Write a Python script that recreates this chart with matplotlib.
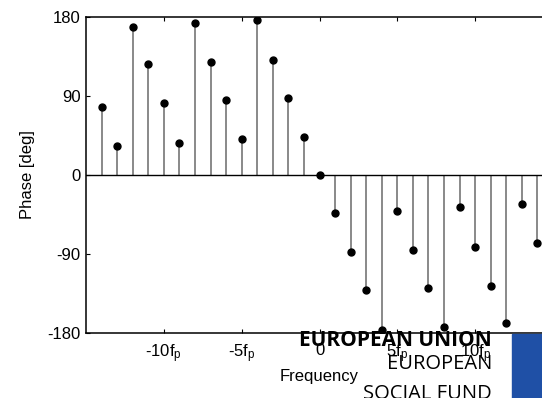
import numpy as np
import matplotlib
matplotlib.use('Agg')
import matplotlib.pyplot as plt
from matplotlib.patches import Rectangle

plt.rcParams['font.family'] = ['Liberation Sans', 'DejaVu Sans']
plt.rcParams['mathtext.fontset'] = 'custom'
plt.rcParams['mathtext.rm'] = 'Liberation Sans'
plt.rcParams['mathtext.it'] = 'Liberation Sans'

# harmonic index (multiples of the pulse frequency f_p)
harmonics = np.arange(-14, 15)

# phase of each harmonic in degrees, odd-symmetric about 0
phase_neg = [77, 32.5, 169, 126, 82, 37, 173.5, 129, 85, 40.5, 176.5, 131.5, 87.5, 43.5]
phase_deg = phase_neg + [0] + [-p for p in phase_neg[::-1]]

xtick_pos = [-10, -5, 0, 5, 10]
xtick_labels = [r'-10f$_\mathrm{p}$', r'-5f$_\mathrm{p}$', '0',
                r'5f$_\mathrm{p}$', r'10f$_\mathrm{p}$']
ytick_pos = [-180, -90, 0, 90, 180]

fig = plt.figure(figsize=(5.42, 3.98), dpi=100)
ax = fig.add_axes((86 / 542, 65 / 398, 467 / 542, 316 / 398))

ax.vlines(harmonics, 0, phase_deg, color='#808080', lw=1.3, zorder=2)
ax.plot(harmonics, phase_deg, 'o', color='k', ms=5, zorder=3)
ax.axhline(0, color='k', lw=1.0, zorder=2)

ax.set_xlim(-15, 15)
ax.set_ylim(-180, 180)
ax.set_xticks(xtick_pos)
ax.set_xticklabels(xtick_labels, fontsize=12)
ax.set_yticks(ytick_pos)
ax.set_yticklabels([str(v) for v in ytick_pos], fontsize=12)
ax.tick_params(direction='in', length=3, width=0.8, top=True, right=True, pad=4)
ax.tick_params(axis='x', pad=7)
for s in ax.spines.values():
    s.set_linewidth(1.1)

ax.set_xlabel('Frequency', fontsize=12, labelpad=3)
ax.set_ylabel('Phase [deg]', fontsize=12, labelpad=9)

# ESF logo in the lower right corner
fig.text(492 / 542, 1 - 341 / 398, 'EUROPEAN UNION', family='Open Sans',
         weight='bold', fontsize=15, ha='right', va='center', zorder=5)
fig.text(492 / 542, 1 - 364 / 398, 'EUROPEAN', family='Open Sans',
         fontsize=14.5, ha='right', va='center', zorder=5)
fig.text(492 / 542, 1 - 394 / 398, 'SOCIAL FUND', family='Open Sans',
         fontsize=14.5, ha='right', va='center', zorder=5)
fig.patches.append(Rectangle((512 / 542, 0), 40 / 542, 64 / 398,
                             transform=fig.transFigure, color='#1f50a6',
                             zorder=5))

fig.savefig('out.png', dpi=100)
